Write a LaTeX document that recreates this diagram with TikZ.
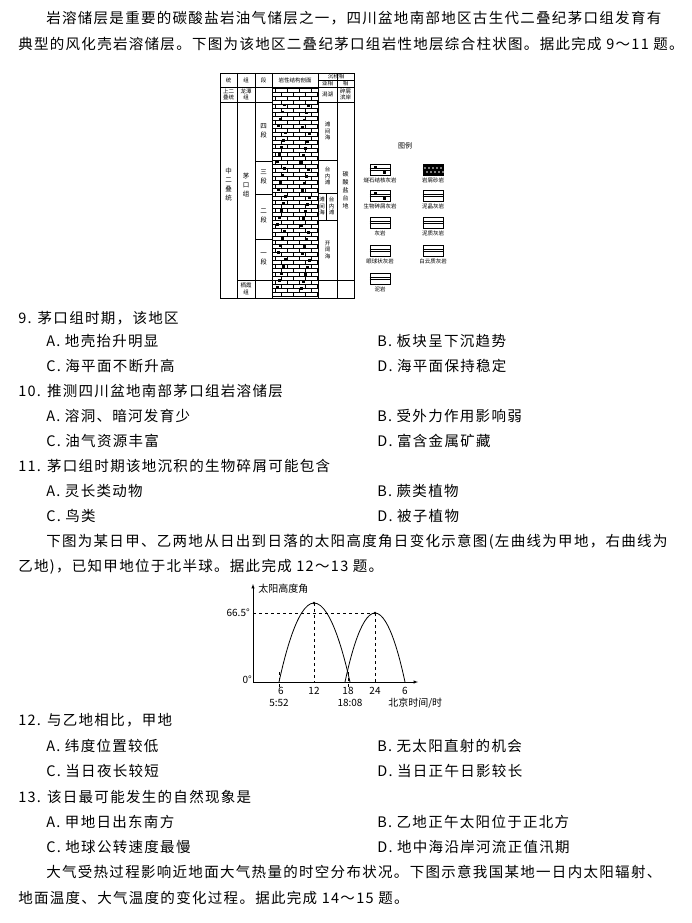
\documentclass[tikz,border=0pt]{standalone}
\usepackage{fontspec}
\usetikzlibrary{calc}
\setmainfont{Liberation Serif}
\newfontfamily\cjk{Noto Sans CJK SC}
\newfontfamily\cjkw[LetterSpace=9]{Noto Sans CJK SC}
\tikzset{
  txt/.style={anchor=west,inner sep=0pt,font=\cjkw\fontsize{14.5}{16}\selectfont},
  tiny/.style={inner sep=0pt,font=\cjk\fontsize{5.5}{6.5}\selectfont,align=center},
  lbl/.style={inner sep=0pt,font=\cjk\fontsize{10}{11}\selectfont},
  swatch/.style={draw,line width=0.6pt,minimum width=20pt,minimum height=11pt,inner sep=0pt}
}
\begin{document}
\begin{tikzpicture}[x=1pt,y=-1pt,line width=0.5pt]
\useasboundingbox (0,0) rectangle (692,923);
% reading text
\node[txt] (p1) at (46,18) {岩溶储层是重要的碳酸盐岩油气储层之一，四川盆地南部地区古生代二叠纪茅口组发育有};
\node[txt] (p2) at (18,44) {典型的风化壳岩溶储层。下图为该地区二叠纪茅口组岩性地层综合柱状图。据此完成 9～11 题。};
% column chart
\draw[line width=0.8pt] (220,73) rectangle (354,298);
\foreach \x in {237,255,272,318,337} \draw (\x,73) -- (\x,298);
\draw (220,87) -- (354,87);
\draw (318,80) -- (354,80);
\draw (220,102) -- (272,102) (318,102) -- (354,102);
\draw (255,161) -- (272,161) (255,194) -- (272,194) (255,239) -- (272,239);
\draw (237,280) -- (354,280);
\draw (318,160) -- (337,160) (318,193) -- (337,193) (318,220) -- (337,220);
\draw (326,193) -- (326,220);
% lithology
\foreach \y in {88,92,...,296} \draw[line width=0.4pt] (272,\y) -- (318,\y);
\foreach \y [count=\i] in {88,92,...,292} {
  \pgfmathsetmacro{\off}{mod(\i,2)*6}
  \foreach \x in {278,290,302,314} \draw[line width=0.4pt] (\x-\off+3,\y) -- (\x-\off+3,\y+4);
}
\foreach \y [count=\i] in {104,111,...,292} {
  \pgfmathsetmacro{\xa}{276+mod(\i*7,9)}
  \fill (\xa,\y) rectangle ++(2.5,2.5);
  \fill (\xa+24,\y+1) rectangle ++(2.5,2.5);
}
\node[tiny] (ht1) at (228.5,80) {统};
\node[tiny] (ht2) at (246,80) {组};
\node[tiny] (ht3) at (263.5,80) {段};
\node[tiny] (ht4) at (295,80) {岩性结构剖面};
\node[tiny] (ht5) at (336,76.5) {沉积相};
\node[tiny] (ht6) at (327.5,83.5) {亚相};
\node[tiny] (ht7) at (345.5,83.5) {相};
\node[tiny] (a1) at (228.5,94.5) {上二\\叠统};
\node[tiny] (a2) at (246,94.5) {龙潭\\组};
\node[tiny] (a3) at (327.5,94.5) {潟湖};
\node[tiny] (a4) at (345.5,94.5) {碎屑\\滨岸};
\node[tiny,font=\cjk\fontsize{6.5}{9}\selectfont] (b1) at (228.5,185) {中\\二\\叠\\统};
\node[tiny,font=\cjk\fontsize{6.5}{9}\selectfont] (b2) at (246,185) {茅\\口\\组};
\node[tiny,font=\cjk\fontsize{6.5}{9}\selectfont] (b3) at (263.5,131) {四\\段};
\node[tiny,font=\cjk\fontsize{6.5}{9}\selectfont] (b4) at (263.5,177) {三\\段};
\node[tiny,font=\cjk\fontsize{6.5}{9}\selectfont] (b5) at (263.5,216) {二\\段};
\node[tiny,font=\cjk\fontsize{6.5}{9}\selectfont] (b6) at (263.5,259) {一\\段};
\node[tiny] (b7) at (246,289) {栖霞\\组};
\node[tiny] (c1) at (327.5,131) {滩\\间\\海};
\node[tiny] (c2) at (327.5,176) {台\\内\\滩};
\node[tiny] (c3) at (322,206) {滩\\间\\海};
\node[tiny] (c4) at (331.5,206) {台\\内\\滩};
\node[tiny] (c5) at (327.5,250) {开\\阔\\海};
\node[tiny,font=\cjk\fontsize{6}{8}\selectfont] (c6) at (345.5,190) {碳\\酸\\盐\\台\\地};
% legend
\node[tiny,font=\cjk\fontsize{7}{8}\selectfont] (tl) at (405,146) {图例};
\foreach \x/\y/\n/\t in {380/170/s1/燧石结核灰岩,433/170/s2/岩屑砂岩,380/196/s3/生物碎屑灰岩,433/196/s4/泥晶灰岩,380/223/s5/灰岩,433/223/s6/泥质灰岩,380/251/s7/眼球状灰岩,433/251/s8/白云质灰岩,380/279/s9/泥岩} {
  \node[swatch] (\n) at (\x,\y) {};
  \draw[line width=0.4pt] (\n.west) -- (\n.east) ($(\n.north west)!0.33!(\n.south west)$) -- ($(\n.north east)!0.33!(\n.south east)$);
  \node[tiny] (\n t) at (\x,\y+10) {\t};
}
\foreach \n in {s1,s3} {\fill (\n.center) ++(-6,-4) rectangle ++(3,3); \fill (\n.center) ++(3,1) rectangle ++(3,3);}
\fill (s2.north west) rectangle (s2.south east);
\foreach \i in {-8,-4,...,8} \fill[white] (s2.center) ++(\i,-2) circle (0.9) ++(2,4) circle (0.9);
% question 9-11
\node[txt] (q9) at (18,318) {9. 茅口组时期，该地区};
\node[txt] (q9a) at (46,341) {A. 地壳抬升明显};
\node[txt] (q9b) at (377,341) {B. 板块呈下沉趋势};
\node[txt] (q9c) at (46,366) {C. 海平面不断升高};
\node[txt] (q9d) at (377,366) {D. 海平面保持稳定};
\node[txt] (q10) at (18,391) {10. 推测四川盆地南部茅口组岩溶储层};
\node[txt] (q10a) at (46,416) {A. 溶洞、暗河发育少};
\node[txt] (q10b) at (377,416) {B. 受外力作用影响弱};
\node[txt] (q10c) at (46,441) {C. 油气资源丰富};
\node[txt] (q10d) at (377,441) {D. 富含金属矿藏};
\node[txt] (q11) at (18,466) {11. 茅口组时期该地沉积的生物碎屑可能包含};
\node[txt] (q11a) at (46,491) {A. 灵长类动物};
\node[txt] (q11b) at (377,491) {B. 蕨类植物};
\node[txt] (q11c) at (46,516) {C. 鸟类};
\node[txt] (q11d) at (377,516) {D. 被子植物};
\node[txt] (p3) at (46,542) {下图为某日甲、乙两地从日出到日落的太阳高度角日变化示意图(左曲线为甲地，右曲线为};
\node[txt] (p4) at (18,567) {乙地)，已知甲地位于北半球。据此完成 12～13 题。};
% sun altitude graph
\coordinate (o) at (253,682);
\draw[-latex] (o) -- (253,584);
\draw[-latex] (o) -- (418,682);
\node[lbl,anchor=west] (ylab) at (258,589) {太阳高度角};
\node[lbl,anchor=east] (y665) at (250,613) {66.5°};
\node[lbl,anchor=east] (y0) at (252,680) {0°};
\draw[dashed] (253,613) -- (375,613);
\draw[dashed] (314,603) -- (314,682) (375,613) -- (375,682);
\draw[dashed] (279,672) -- (279,688) (348,672) -- (348,688);
\draw[line width=0.8pt] (279,682) parabola bend (314,603) (350,682);
\draw[line width=0.8pt] (345,682) parabola bend (375,613) (405,682);
\fill (314,603) circle (1.3) (375,613) circle (1.3);
\foreach \x/\t/\n in {281/6/t1,314/12/t2,348/18/t3,375/24/t4,405/6/t5} \node[lbl] (\n) at (\x,691) {\t};
\node[lbl] (t6) at (279,703) {5:52};
\node[lbl] (t7) at (350,703) {18:08};
\node[lbl,anchor=west] (xlab) at (388,703) {北京时间/时};
% question 12-13
\node[txt] (q12) at (18,720) {12. 与乙地相比，甲地};
\node[txt] (q12a) at (46,746) {A. 纬度位置较低};
\node[txt] (q12b) at (377,746) {B. 无太阳直射的机会};
\node[txt] (q12c) at (46,771) {C. 当日夜长较短};
\node[txt] (q12d) at (377,771) {D. 当日正午日影较长};
\node[txt] (q13) at (18,797) {13. 该日最可能发生的自然现象是};
\node[txt] (q13a) at (46,822) {A. 甲地日出东南方};
\node[txt] (q13b) at (377,822) {B. 乙地正午太阳位于正北方};
\node[txt] (q13c) at (46,847) {C. 地球公转速度最慢};
\node[txt] (q13d) at (377,847) {D. 地中海沿岸河流正值汛期};
\node[txt] (p5) at (46,872) {大气受热过程影响近地面大气热量的时空分布状况。下图示意我国某地一日内太阳辐射、};
\node[txt] (p6) at (18,898) {地面温度、大气温度的变化过程。据此完成 14～15 题。};
\end{tikzpicture}
\end{document}
